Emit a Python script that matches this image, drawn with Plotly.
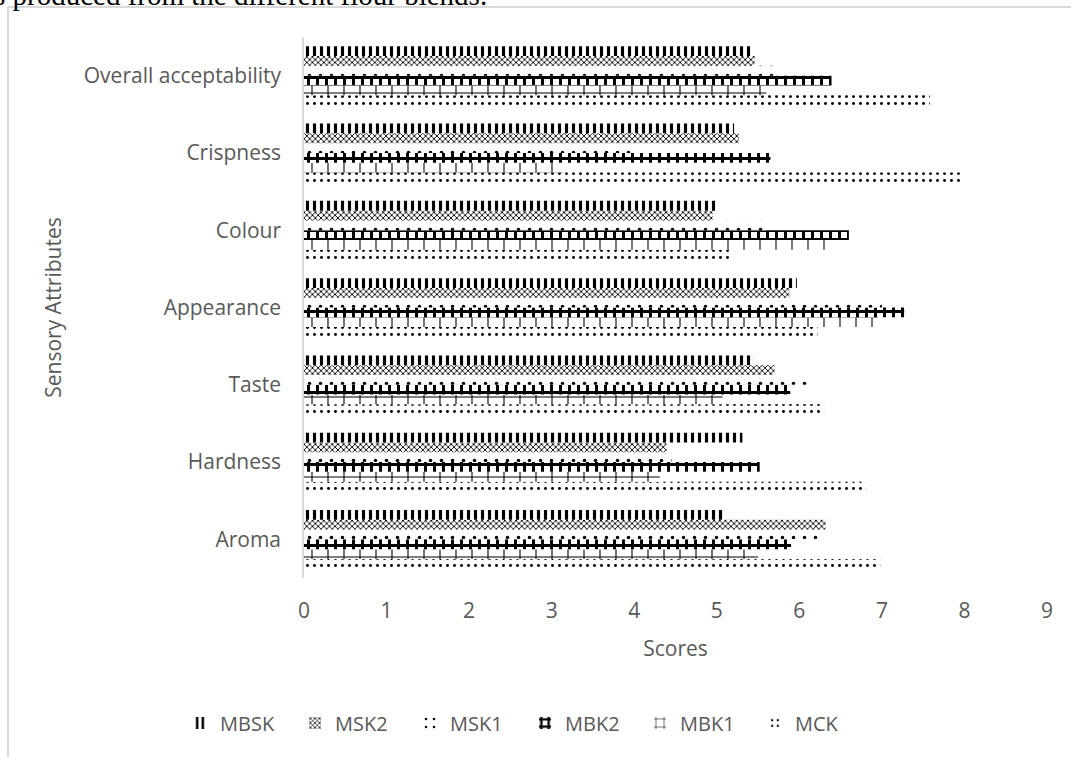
import plotly.graph_objects as go

categories = ["Aroma", "Hardness", "Taste", "Appearance", "Colour", "Crispness", "Overall acceptability"]

series_names = ["MBSK", "MSK2", "MSK1", "MBK2", "MBK1", "MCK"]
mbsk = [5.09, 5.31, 5.45, 5.97, 5.00, 5.21, 5.42]
msk2 = [6.32, 4.39, 5.70, 5.88, 4.95, 5.27, 5.46]
msk1 = [6.25, 4.45, 6.15, 7.00, 5.60, 4.00, 5.72]
mbk2 = [5.90, 5.52, 5.89, 7.27, 6.60, 5.65, 6.39]
mbk1 = [5.50, 4.31, 5.07, 6.95, 6.45, 3.14, 5.60]
mck = [6.98, 6.81, 6.30, 6.22, 5.18, 7.99, 7.58]

x_ticks = [0, 1, 2, 3, 4, 5, 6, 7, 8, 9]

values = {"MBSK": mbsk, "MSK2": msk2, "MSK1": msk1, "MBK2": mbk2, "MBK1": mbk1, "MCK": mck}
patterns = {
    "MBSK": dict(shape="|", size=7, solidity=0.45),
    "MSK2": dict(shape="x", size=4, solidity=0.4),
    "MSK1": dict(shape=".", size=11, solidity=0.08),
    "MBK2": dict(shape="+", size=9, solidity=0.55),
    "MBK1": dict(shape="+", size=16, solidity=0.13),
    "MCK": dict(shape=".", size=7, solidity=0.14),
}

W, H = 1071, 757
L, R, T, B = 304, 1047, 37, 578

fig = go.Figure()
for name in reversed(series_names):
    p = patterns[name]
    fig.add_trace(go.Bar(
        y=categories, x=values[name], name=name, orientation="h",
        marker=dict(color="white", line=dict(width=0),
                    pattern=dict(shape=p["shape"], size=p["size"], solidity=p["solidity"],
                                 fgcolor="black", bgcolor="white", fgopacity=1, fillmode="overlay")),
    ))

font = "Open Sans"
grey = "#595959"
fig.update_layout(
    width=W, height=H,
    margin=dict(l=L, r=W - R, t=T, b=H - B, pad=0),
    paper_bgcolor="white", plot_bgcolor="white",
    barmode="group", bargap=0.24, bargroupgap=0,
    font=dict(family=font, size=21, color=grey),
    showlegend=True,
    legend=dict(orientation="h", traceorder="reversed", x=(180 - L) / (R - L), xanchor="left",
                y=(B - 723) / (B - T), yanchor="middle", font=dict(size=20, color=grey),
                itemwidth=30, entrywidth=70, entrywidthmode="pixels"),
    xaxis=dict(range=[0, 9], tickvals=x_ticks, showgrid=False, zeroline=False, showline=False,
               ticks="", automargin=False, ticklabelstandoff=18, tickfont=dict(size=21, color=grey),
               title=dict(text="Scores", font=dict(size=21, color=grey), standoff=18)),
    yaxis=dict(showgrid=False, zeroline=False, showline=True, linecolor="#d9d9d9", linewidth=1.5,
               ticks="", automargin=False, ticklabelstandoff=17, tickfont=dict(size=21, color=grey),
               title=dict(text="Sensory Attributes", font=dict(size=21, color=grey), standoff=16)),
)

def px_x(px):
    return (px - L) / (R - L)

def px_y(py):
    return (B - py) / (B - T)

fig.add_shape(type="line", xref="paper", yref="paper", x0=px_x(8), x1=px_x(8),
              y0=px_y(7), y1=px_y(760), line=dict(color="#d9d9d9", width=2))
fig.add_shape(type="line", xref="paper", yref="paper", x0=px_x(8), x1=px_x(1075),
              y0=px_y(7), y1=px_y(7), line=dict(color="#d9d9d9", width=2))

fig.add_annotation(xref="paper", yref="paper", x=px_x(-8), y=px_y(-5), xanchor="left", yanchor="middle",
                   text="s produced from the different flour blends.", showarrow=False,
                   font=dict(family="Liberation Serif", size=29, color="black"))

fig.write_html("out.html", config={"displayModeBar": False},
               post_script="document.body.style.margin='0';")
